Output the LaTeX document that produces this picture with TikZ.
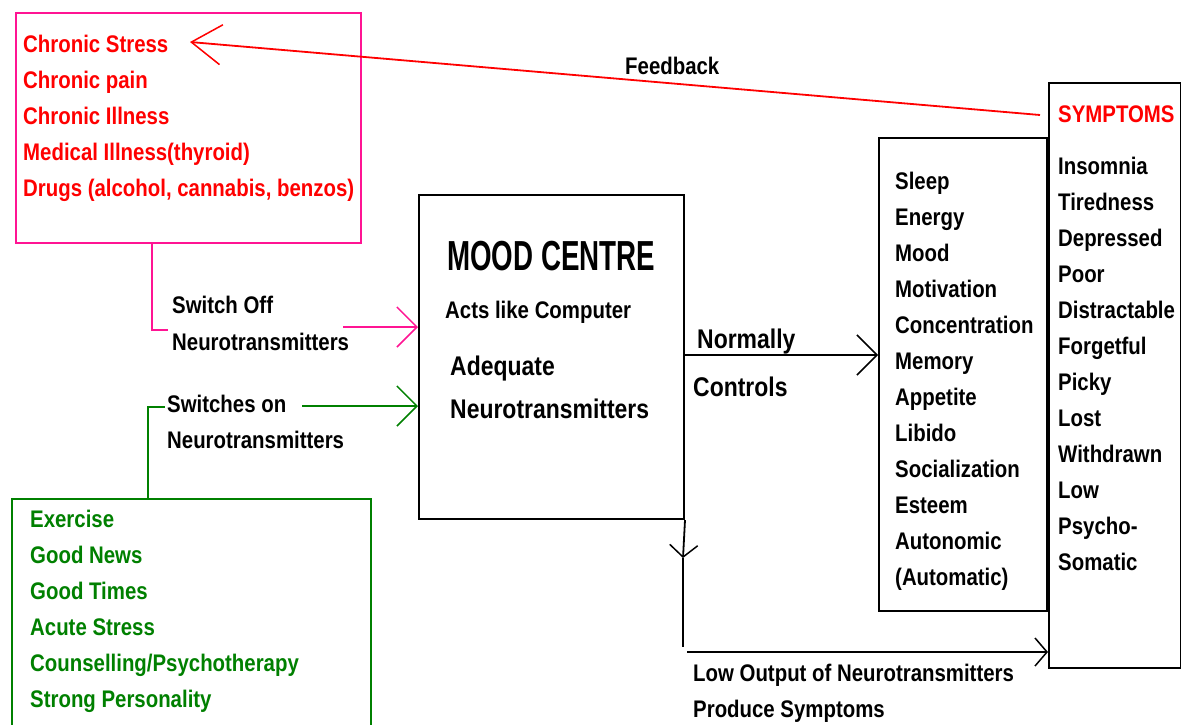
\documentclass[tikz,border=0pt]{standalone}
\usepackage{fontspec}
\setmainfont{Liberation Sans}[FakeStretch=0.85]
\newfontfamily\narrowfont{Liberation Sans}[FakeStretch=0.66]
\usetikzlibrary{arrows.meta}
\definecolor{pinkline}{RGB}{255,20,147}
\definecolor{redtxt}{RGB}{255,0,0}
\definecolor{greenline}{RGB}{0,128,0}
\tikzset{
  txt/.style={anchor=base west, inner sep=0pt, font=\bfseries\fontsize{24}{28}\selectfont},
  midtxt/.style={anchor=base west, inner sep=0pt, font=\bfseries\fontsize{27}{31}\selectfont},
  bigtxt/.style={anchor=base west, inner sep=0pt, font=\narrowfont\bfseries\fontsize{42}{46}\selectfont},
  box/.style={draw, line width=2pt, inner sep=0pt, anchor=north west},
  vtip/.style={-{Straight Barb[length=20pt,width=40pt,line width=1.5pt]}},
  smalltip/.style={-{Straight Barb[length=12pt,width=28pt,line width=1.5pt]}},
  conn/.style={line width=1.8pt},
}
\begin{document}
\begin{tikzpicture}[x=1pt,y=-1pt]
\useasboundingbox[fill=white] (0,0) rectangle (1181,724);

% boxes
\node[box, draw=pinkline, line width=1.6pt, minimum width=345pt, minimum height=230pt] (pinkbox) at (15,12) {};
\node[box, draw=greenline, minimum width=359pt, minimum height=240pt] (greenbox) at (11,498) {};
\node[box, minimum width=265pt, minimum height=324pt] (mood) at (418,194) {};
\node[box, minimum width=168pt, minimum height=473pt] (funcs) at (878,137) {};
\node[box, minimum width=132pt, minimum height=585pt] (symp) at (1048,82) {};
\draw[line width=4pt] (funcs.north east) -- (funcs.south east);

% red causes
\foreach \t [count=\i from 0] in {Chronic Stress,Chronic pain,Chronic Illness,Medical Illness(thyroid),{Drugs (alcohol, cannabis, benzos)}}
  \node[txt, text=redtxt] (r\i) at (23,52+36*\i) {\t};

% green protective factors
\foreach \t [count=\i from 0] in {Exercise,Good News,Good Times,Acute Stress,Counselling/Psychotherapy,Strong Personality}
  \node[txt, text=greenline] (g\i) at (30,527+36*\i) {\t};

% functions
\foreach \t [count=\i from 0] in {Sleep,Energy,Mood,Motivation,Concentration,Memory,Appetite,Libido,Socialization,Esteem,Autonomic,(Automatic)}
  \node[txt] (f\i) at (895,189+36*\i) {\t};

% symptoms
\node[txt, text=redtxt] (symtitle) at (1058,122) {SYMPTOMS};
\foreach \t [count=\i from 0] in {Insomnia,Tiredness,Depressed,Poor,Distractable,Forgetful,Picky,Lost,Withdrawn,Low,Psycho-,Somatic}
  \node[txt] (s\i) at (1058,174+36*\i) {\t};

% mood centre text
\node[bigtxt] (mtitle) at (447,270) {MOOD CENTRE};
\node[txt] (macts) at (445,318) {Acts like Computer};
\node[midtxt] (madeq) at (450,375) {Adequate};
\node[midtxt] (mneuro) at (450,418) {Neurotransmitters};

% labels
\node[txt] (fb) at (625,74) {Feedback};
\node[txt] (off1) at (172,313) {Switch Off};
\node[txt] (off2) at (172,350) {Neurotransmitters};
\node[txt] (on1) at (167,412) {Switches on};
\node[txt] (on2) at (167,448) {Neurotransmitters};
\node[midtxt] (norm) at (697,348) {Normally};
\node[midtxt] (ctrl) at (693,396) {Controls};
\node[txt] (low1) at (693,681) {Low Output of Neurotransmitters};
\node[txt] (low2) at (693,717) {Produce Symptoms};

% coordinates
\coordinate (fbstart) at (1040,115);
\coordinate (fbtip) at (190,42);
\coordinate (offlbl) at (168,330);
\coordinate (offstart) at (343,327);
\coordinate (onlbl) at (165,407);
\coordinate (onstart) at (302,406);
\coordinate (ctl) at (0,355);
\coordinate (dmid) at (683,558);
\coordinate (dcorner) at (683,647);
\coordinate (lowstart) at (687,652);

% connectors
\draw[conn, redtxt, -{Straight Barb[length=30pt,width=40pt,line width=1.5pt]}] (fbstart) -- (fbtip);
\draw[conn, pinkline] ([xshift=137pt]pinkbox.south west) |- (offlbl);
\draw[conn, pinkline, vtip] (offstart) -- (offstart -| mood.west);
\draw[conn, greenline] ([xshift=137pt]greenbox.north west) |- (onlbl);
\draw[conn, greenline, vtip] (onstart) -- (onstart -| mood.west);
\draw[conn, vtip] (mood.east |- ctl) -- (funcs.west |- ctl);
\draw[conn, smalltip] (mood.south east) -- (dmid);
\draw[conn] (dmid) -- (dcorner);
\draw[conn, smalltip] (lowstart) -- (symp.west |- lowstart);
\end{tikzpicture}
\end{document}
